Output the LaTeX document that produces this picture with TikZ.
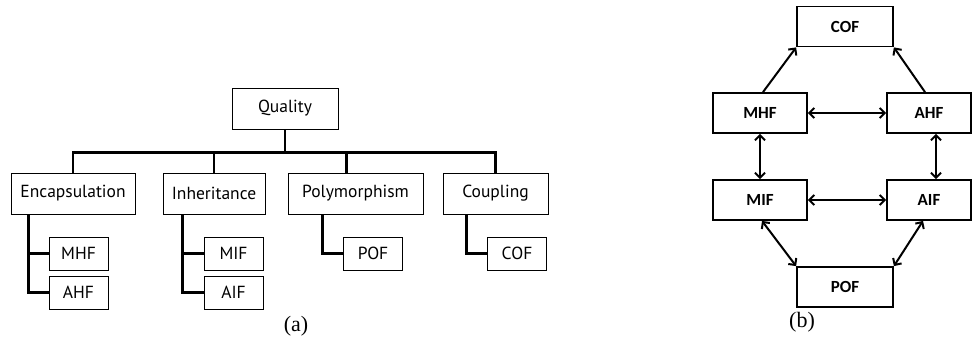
\documentclass[tikz,border=0pt]{standalone}
\usepackage{fontspec}
\setmainfont{Liberation Serif}
\newfontfamily\treefont{PT Sans}
\newfontfamily\graphfont{Carlito}
\usepackage{tikz}
\usetikzlibrary{arrows.meta}
\tikzset{
  cat node/.style={draw,line width=0.9pt,minimum height=41pt,inner sep=0pt,font=\treefont\fontsize{17.5}{20}\selectfont},
  leaf node/.style={draw,line width=0.9pt,minimum width=59pt,minimum height=33pt,inner sep=0pt,font=\treefont\fontsize{17.5}{20}\selectfont},
  metric node/.style={draw,line width=1.8pt,minimum height=40pt,inner sep=0pt,font=\graphfont\bfseries\fontsize{17}{20}\selectfont},
  branch/.style={line width=2.6pt},
  caption/.style={font=\fontsize{22}{26}\selectfont}
}

\begin{document}
\begin{tikzpicture}[x=1pt,y=-1pt,>={Straight Barb[length=5pt,width=10pt]}]
  \useasboundingbox (0,0) rectangle (974,340);
  % (a) the quality tree
  \node [cat node,minimum width=106pt] (q) at (285,108.5) {Quality};
  \node [cat node,minimum width=124pt] (enc) at (73,193.5) {Encapsulation};
  \node [cat node,minimum width=102pt] (inh) at (214,193.5) {Inheritance};
  \node [cat node,minimum width=135pt] (pol) at (355.5,193.5) {Polymorphism};
  \node [cat node,minimum width=105pt] (cpl) at (495.5,193.5) {Coupling};
  \node [leaf node] (mhf) at (78.5,253.5) {MHF};
  \node [leaf node] (ahf) at (78.5,292.5) {AHF};
  \node [leaf node] (mif) at (233.5,253.5) {MIF};
  \node [leaf node] (aif) at (233.5,292.5) {AIF};
  \node [leaf node] (pof) at (373,253.5) {POF};
  \node [leaf node] (cof) at (517,253.5) {COF};
  \draw [branch] (q.south) -- ++(0,23) coordinate (bus);
  \draw [branch] (enc.north) |- (bus) -| (cpl.north);
  \draw [branch] (inh.north) -- (inh.north |- bus);
  \draw [branch] ([xshift=-9pt]pol.north) -- ([xshift=-9pt]pol.north |- bus);
  \draw [branch] ([xshift=18pt]enc.south west) |- (ahf.west);
  \draw [branch] (mhf.west) -- ++(-20,0);
  \draw [branch] ([xshift=20pt]inh.south west) |- (aif.west);
  \draw [branch] (mif.west) -- ++(-21,0);
  \draw [branch] ([xshift=35pt]pol.south west) |- (pof.west);
  \draw [branch] ([xshift=24pt]cpl.south west) |- (cof.west);
  \node [caption] (capa) at (296,326) {(a)};

  % (b) the metric graph
  \node [metric node,minimum width=96pt] (b cof) at (845,26.5) {COF};
  \node [metric node,minimum width=94pt] (b mhf) at (760,113) {MHF};
  \node [metric node,minimum width=84pt] (b ahf) at (929,113) {AHF};
  \node [metric node,minimum width=94pt] (b mif) at (760,200) {MIF};
  \node [metric node,minimum width=84pt] (b aif) at (929,200) {AIF};
  \node [metric node,minimum width=96pt] (b pof) at (845,287) {POF};
  \begin{scope}[line width=2pt]
    \draw [->] ([xshift=3pt]b mhf.north) -- (b cof.south west);
    \draw [->] ([xshift=-4pt]b ahf.north) -- (b cof.south east);
    \draw [<->] (b mhf) -- (b ahf);
    \draw [<->] (b mif) -- (b aif);
    \draw [<->] (b mhf) -- (b mif);
    \draw [<->] ([xshift=7pt]b ahf.south) -- ([xshift=7pt]b aif.north);
    \draw [<->] ([xshift=2pt]b mif.south) -- (b pof.north west);
    \draw [<->] ([xshift=-6pt]b aif.south) -- (b pof.north east);
  \end{scope}
  \node [caption] (capb) at (802,322) {(b)};
\end{tikzpicture}
\end{document}
